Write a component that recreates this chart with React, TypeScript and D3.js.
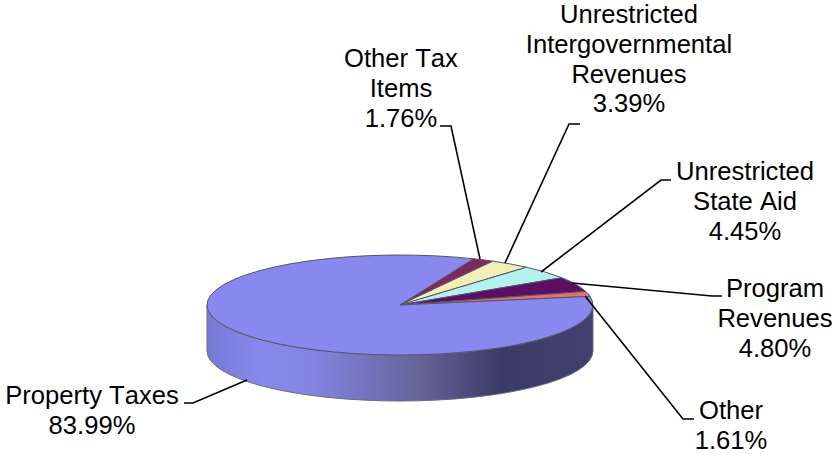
import React from "react";
import * as d3 from "d3";

// Revenue shares, in percent, clockwise from the first small slice
const categories = [
  "Other Tax Items",
  "Unrestricted Intergovernmental Revenues",
  "Unrestricted State Aid",
  "Program Revenues",
  "Other",
  "Property Taxes",
];
const shares = [1.76, 3.39, 4.45, 4.8, 1.61, 83.99];
const sliceColors = ["#7f2860", "#f1efb6", "#b5f1ee", "#5a0f62", "#e66f68", "#8888ee"];
const labelLines = [
  ["Other Tax", "Items", "1.76%"],
  ["Unrestricted", "Intergovernmental", "Revenues", "3.39%"],
  ["Unrestricted", "State Aid", "4.45%"],
  ["Program", "Revenues", "4.80%"],
  ["Other", "1.61%"],
  ["Property Taxes", "83.99%"],
];
const labelAnchors: [number, number][] = [
  [401, 67],
  [629, 23],
  [745, 180],
  [775, 297],
  [731, 419],
  [92, 404],
];
const leaders: [number, number][][] = [
  [[480, 259], [451, 126], [440, 126]],
  [[505, 263], [569, 124], [580, 124]],
  [[541, 272], [661, 180], [671, 180]],
  [[572, 283], [712, 296], [722, 296]],
  [[585, 296], [683, 419], [694, 419]],
  [[247, 380], [193, 403], [184, 403]],
];

const cx = 400;
const cy = 305;
const rx = 193;
const ry = 50;
const depth = 46;
const startDeg = 22.4;
const lineStep = 29.8;

export default function App() {
  const pie = d3
    .pie<number>()
    .sort(null)
    .startAngle((startDeg * Math.PI) / 180)
    .endAngle(((startDeg + 360) * Math.PI) / 180);
  const arcs = pie(shares);
  const arc = d3.arc<d3.PieArcDatum<number>>().innerRadius(0).outerRadius(rx);
  const line = d3.line();
  const wall =
    `M${cx - rx},${cy} A${rx},${ry} 0 0 0 ${cx + rx},${cy} ` +
    `L${cx + rx},${cy + depth} A${rx},${ry} 0 0 1 ${cx - rx},${cy + depth} Z`;

  return (
    <svg
      width={834}
      height={454}
      style={{ position: "absolute", left: 0, top: 0, background: "#fff", fontKerning: "none" }}
      fontFamily="'Liberation Sans', Arial, sans-serif"
    >
      <defs>
        <linearGradient id="wallShade" gradientUnits="userSpaceOnUse" x1={cx - rx} x2={cx + rx} y1={0} y2={0}>
          <stop offset="0" stopColor="#7878d8" />
          <stop offset="0.14" stopColor="#8888ea" />
          <stop offset="0.27" stopColor="#8484e2" />
          <stop offset="0.55" stopColor="#646499" />
          <stop offset="0.76" stopColor="#3b3b68" />
          <stop offset="1" stopColor="#41416f" />
        </linearGradient>
      </defs>
      <path d={wall} fill="url(#wallShade)" stroke="#6a6a80" strokeWidth={1} />
      <g transform={`translate(${cx},${cy}) scale(1,${ry / rx})`}>
        {arcs.map((d, i) => (
          <path
            key={categories[i]}
            d={arc(d) ?? ""}
            fill={sliceColors[i]}
            stroke="#55556a"
            strokeWidth={1}
            vectorEffect="non-scaling-stroke"
          />
        ))}
      </g>
      {leaders.map((pts, i) => (
        <path key={i} d={line(pts) ?? ""} fill="none" stroke="#000" strokeWidth={1.6} />
      ))}
      {labelLines.map((lines, i) => (
        <text key={i} textAnchor="middle" fontSize={25.6} fill="#000" style={{ fontKerning: "none" }}>
          {lines.map((t, j) => (
            <tspan key={j} x={labelAnchors[i][0]} y={labelAnchors[i][1] + j * lineStep}>
              {t}
            </tspan>
          ))}
        </text>
      ))}
    </svg>
  );
}
